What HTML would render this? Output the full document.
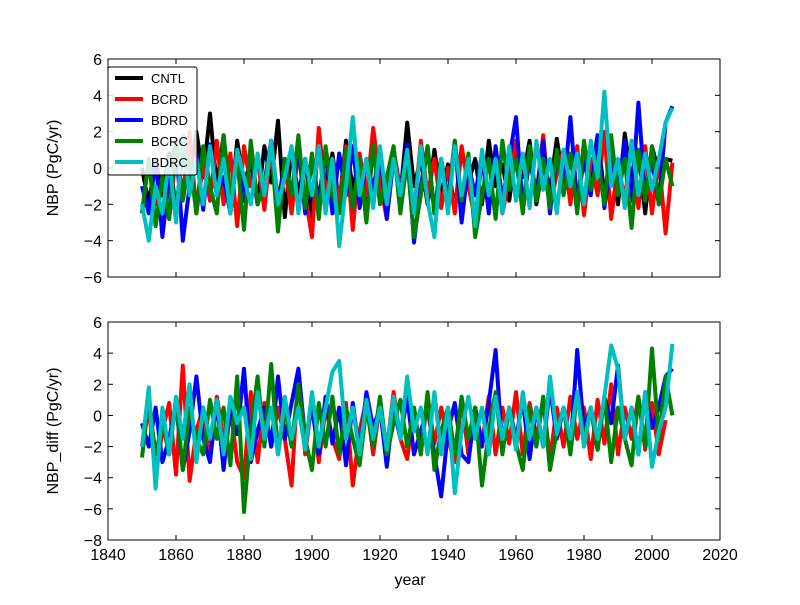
<!DOCTYPE html>
<html><head><meta charset="utf-8"><style>
body{margin:0;background:#fff;}
svg text{font-family:"Liberation Sans",sans-serif;}
</style></head><body>
<svg id="chart" width="800" height="600" viewBox="0 0 800 600"></svg>
<script>
const years = []; for (let y = 1850; y <= 2006; y += 2) years.push(y);
const seriesNames = ["CNTL","BCRD","BDRD","BCRC","BDRC"];
const seriesColors = ["#000000","#ff0000","#0000ff","#008000","#00bfbf"];
const xTicks = [1840,1860,1880,1900,1920,1940,1960,1980,2000,2020];
const topTicks = [-6,-4,-2,0,2,4,6];
const botTicks = [-8,-6,-4,-2,0,2,4,6];
const topCNTL = [0,-2,0.5,-1.5,0.8,-2.4,1,-1.2,2,-0.5,3,-1,1.8,-2.5,1.5,-1,0.5,-2,1.2,-0.8,2.6,-2.7,1,-1.5,0.5,-2.8,1.8,-1,0.8,-2,1.5,-1.2,0.6,-2.5,1,-0.5,-1.8,0.8,-1.5,2.5,-1,0.5,-2,1,-1.5,0.2,-2.3,1,-0.8,0.5,-2,1.5,-1,0.2,-1.8,1,-0.5,1.5,-2,0.3,-1.2,1.6,-0.8,0.8,-2.2,1.3,-0.5,1.8,-1.5,0.5,-2,1.9,-0.7,1,-2.5,1.2,-0.3,0.5,0.4];
const topBCRD = [-2.5,0.5,-2,-0.5,-2.8,0.8,-1.5,2,-2.5,0.3,-1.8,1.5,-2,0.8,-3.2,1.2,-1,0.5,-2.3,1.5,-1.8,0.2,-2.5,1,-1.5,-3.8,2.2,-1.5,0.5,-2,1.2,-3.4,0.8,-1.5,2.2,-0.8,-2.8,1,-1.2,0.5,-2.5,1.5,-1.5,0.5,-2.2,0,-2.5,1.2,-1,-2.8,0.5,-1.8,1,-2.5,-0.5,1.5,-2.4,0.8,-1.5,1.8,-2.2,-0.3,1,-2,1.2,-2.6,0.5,-1.5,2,-2.8,0.3,-1.8,1.5,-2.2,1.2,-2.5,0.5,-3.6,0.3];
const topBDRD = [-1,-2.5,0.5,-3.8,-0.5,1.5,-4,-1,0.8,-2.3,1.3,-1.5,-0.5,-2.5,0.8,-1.8,0.5,-2,-0.8,1.5,-2.2,0.5,-1.5,1.2,-2.5,0.5,-1.8,1,-2.5,0.8,-1.5,1.2,-2.2,0.5,-1.2,1,-2.8,0.5,-1.5,1.3,-4.1,-1,1.2,-2.5,0.5,-1.8,1.5,-3,0.2,-1.5,0.8,-2.5,1.2,-1.8,0.5,2.8,-2.2,0.5,-1.5,1.5,-2.5,0.8,-1.2,2.8,-2,0.5,-1.5,1.8,-2.2,0.6,-1.2,1.5,-1.8,3.6,-1.5,0.5,-2,2.5,3.4];
const topBCRC = [-2.5,0.5,-3.2,-0.5,-2.8,1.5,-1.8,0.5,-2.5,1.2,-1,-2.5,1.8,-1.5,0.5,-3.4,1.5,-2,-0.8,1.2,-3.5,0.5,-1.5,1.8,-2.2,0.8,-2.8,1.2,-1.5,-2.5,1,-2.2,0.5,-3,1.3,-2,-0.5,1.2,-2.5,0.5,-3.8,-1.5,1.2,-2.5,0.5,-2.2,1.5,-1.8,0.8,-3.8,-1.5,0.5,-2.8,1.5,-1.2,0.5,-2.5,1.2,-1.8,0.5,-2.2,1,-1.5,0.8,-2.5,1.5,-1.2,0.5,-2,1.8,-1.5,0.5,-3.3,1,-1.8,1.2,-2,0.5,-1];
const topBDRC = [-2,-4,-1,-2.5,0.5,-3,1.8,-1.5,0.5,-2,1.2,-1.5,0.5,-2.5,1,-0.5,-2,0.8,-1.5,1.5,-2,-0.5,1.2,-2.5,0.5,-1.5,1.2,-2.5,0.5,-4.3,-1,2.8,-1.5,0.5,-2.2,1.2,-2,0.5,-1.5,1,-2.5,1.2,-1.8,-3.8,0.5,-2.5,1.2,-1.5,0.5,-3.2,1,-1.5,0.5,-2.5,1.2,-1.8,0.8,-2.2,1.5,-1.2,0.5,-2.5,1,-1,0.8,-2,1.5,-0.5,4.2,-1,0.5,-2.2,1.5,-1.5,0.8,-1.2,0.5,2.5,3.3];
const botCNTL = [];
const botBCRD = [-2,0.5,-3.8,-1,0.8,-3.8,3.2,-4.2,-1,0.5,-2.5,1.2,-1.5,0.5,-3,-4,1.5,-3,0.8,-2,0.5,-1.5,-4.5,2.8,-2.5,1,-3,0.5,-1.5,-2.8,0.8,-4.5,-1,1,-2.5,0.8,-2.2,1.5,-1.5,-2.8,0.5,-2.5,1.2,-1.8,0.5,-1.5,-3,1,-2.5,0.5,-1.8,1.2,-2.5,0.5,-1.8,1.5,-2.5,0.8,-1.5,1,-2.8,0.5,-2,1.2,-1.5,0.5,-2.8,1,-1.8,2,-2.5,0.5,-1.5,1.2,-2.2,0.8,-2.5,-0.3];
const botBDRD = [-0.5,-2,0.5,-3,-1.5,0.8,-3.5,-1,2.5,-1.5,-3,1,-3.5,0.5,-1.2,3,-3,-1,0.5,-2,2.5,-1.5,0.8,3,-1.5,0.5,-2.5,1.2,-1.8,0.5,-3.2,0.8,-2.5,1.5,-0.8,0.5,-3.3,0.5,-1.5,1.2,-2.5,-1,0.5,-2.5,-5.2,-1,0.8,-2.5,-3,0.5,-2,0.8,4.2,-2.2,0.5,-1.5,1,-2.8,0.5,-2,1.8,-1.5,0.5,-2.2,4.2,-1,0.5,-2.2,1.2,-0.5,3.2,-1.5,0.5,-2.5,1.5,-0.8,0.5,2.5,3];
const botBCRC = [-2.7,1,-2.5,-0.5,-2.5,1,-3.5,0.5,-1.5,-2.5,1,-1.5,0.5,-3.2,2.5,-6.2,-1,2.5,-2,3.3,-2.5,0.5,-2,2,-1.5,-3.5,0.8,-2,1.2,-2.5,0.5,-1.5,-3.2,0.5,-2,1.2,-2.5,-0.5,1,-2,0.5,-2.5,1.5,-3.5,-1,0.5,-2.5,1.2,-1.5,0.5,-4.5,-1,1.5,-2.5,0.5,-1.8,-3.5,0.5,-2,1.2,-3.5,-1,0.5,-2.5,1.5,-1.5,0.5,-2.2,1.2,-3,0.5,-1.5,-3.2,1.2,-2,4.3,-1.5,2.5,0];
const botBDRC = [-2,1.8,-4.7,0.5,-2.5,1.2,-1.5,2,-3,0.5,-1.5,1,-2.5,1.2,-0.5,0.5,-2.8,1.5,-1.5,0.5,-2.5,1.2,-1.5,0.5,-2.2,1.5,-2,0.5,2.8,3.5,-1.5,0.5,-2.5,1,-1.5,0.5,-2.2,1.2,-1.5,2.5,-1,0.5,-2.5,1.5,-2.5,0.5,-5,-1,1.2,-1.5,0.5,-2.5,1.2,-1.5,0.5,-2.2,1.5,-1.5,0.5,-2,2.5,-1.2,0.5,-1.5,1.5,-2,0.5,-1.5,1.2,4.5,3,-1.5,0.5,-2.5,1.5,-3.3,-1,0.5,4.6];
const topData = [topCNTL, topBCRD, topBDRD, topBCRC, topBDRC];
const botData = [botCNTL, botBCRD, botBDRD, botBCRC, botBDRC];

const NS = "http://www.w3.org/2000/svg";
const svg = document.getElementById("chart");
const X0 = 108, X1 = 720;
const xScale = v => X0 + (v - 1840) / 180 * (X1 - X0);
function mk(tag, attrs, parent) {
  const e = document.createElementNS(NS, tag);
  for (const k in attrs) e.setAttribute(k, attrs[k]);
  (parent || svg).appendChild(e);
  return e;
}
function panel(top, bottom, ymin, ymax, ticks, data, ylabel, name, showX) {
  const g = mk("g", {});
  
  
  const yScale = v => bottom - (v - ymin) / (ymax - ymin) * (bottom - top);
  const clip = mk("clipPath", {id: "clip-" + name}, g);
  mk("rect", {x: X0, y: top, width: X1 - X0, height: bottom - top}, clip);
  const lg = mk("g", {"clip-path": "url(#clip-" + name + ")"}, g);
  data.forEach((arr, i) => {
    if (!arr.length) return;
    const pts = arr.map((v, j) => xScale(years[j]).toFixed(1) + "," + yScale(v).toFixed(1)).join(" ");
    const pl = mk("polyline", {points: pts, fill: "none", stroke: seriesColors[i], "stroke-width": 4, "stroke-linejoin": "round"}, lg);
    
    
  });
  mk("rect", {x: X0, y: top, width: X1 - X0, height: bottom - top, fill: "none", stroke: "#000", "stroke-width": 1}, g);
  ticks.forEach(t => {
    const y = yScale(t);
    mk("line", {x1: X0, x2: X0 + 5, y1: y, y2: y, stroke: "#000"}, g);
    mk("line", {x1: X1, x2: X1 - 5, y1: y, y2: y, stroke: "#000"}, g);
    const tx = mk("text", {x: X0 - 6, y: y + 6, "text-anchor": "end", "font-size": 16}, g);
    tx.textContent = t < 0 ? "\u2212" + (-t) : t;
    
    
  });
  xTicks.forEach(t => {
    const x = xScale(t);
    mk("line", {x1: x, x2: x, y1: bottom, y2: bottom - 5, stroke: "#000"}, g);
    mk("line", {x1: x, x2: x, y1: top, y2: top + 5, stroke: "#000"}, g);
    if (showX) {
      const tx = mk("text", {x: x, y: bottom + 20, "text-anchor": "middle", "font-size": 16}, g);
      tx.textContent = t;
      
      
    }
  });
  const yl = mk("text", {x: 0, y: 0, "text-anchor": "middle", "font-size": 16, transform: "translate(58," + ((top + bottom) / 2) + ") rotate(-90)"}, g);
  yl.textContent = ylabel;
  
  
}
panel(59, 277, -6, 6, topTicks, topData, "NBP (PgC/yr)", "top-panel", false);
panel(322, 540, -8, 6, botTicks, botData, "NBP_diff (PgC/yr)", "bottom-panel", true);
const xt = mk("text", {x: 410, y: 585, "text-anchor": "middle", "font-size": 16});
xt.textContent = "year";



const leg = mk("g", {});


mk("rect", {x: 108, y: 67, width: 89, height: 108, fill: "#fff", "fill-opacity": 0.85, stroke: "#000", rx: 2}, leg);
seriesNames.forEach((n, i) => {
  const y = 78 + i * 21;
  mk("line", {x1: 115, x2: 143, y1: y, y2: y, stroke: seriesColors[i], "stroke-width": 4}, leg);
  const t = mk("text", {x: 151, y: y + 5, "font-size": 13}, leg);
  t.textContent = n;
  
  
});
</script>
</body></html>
